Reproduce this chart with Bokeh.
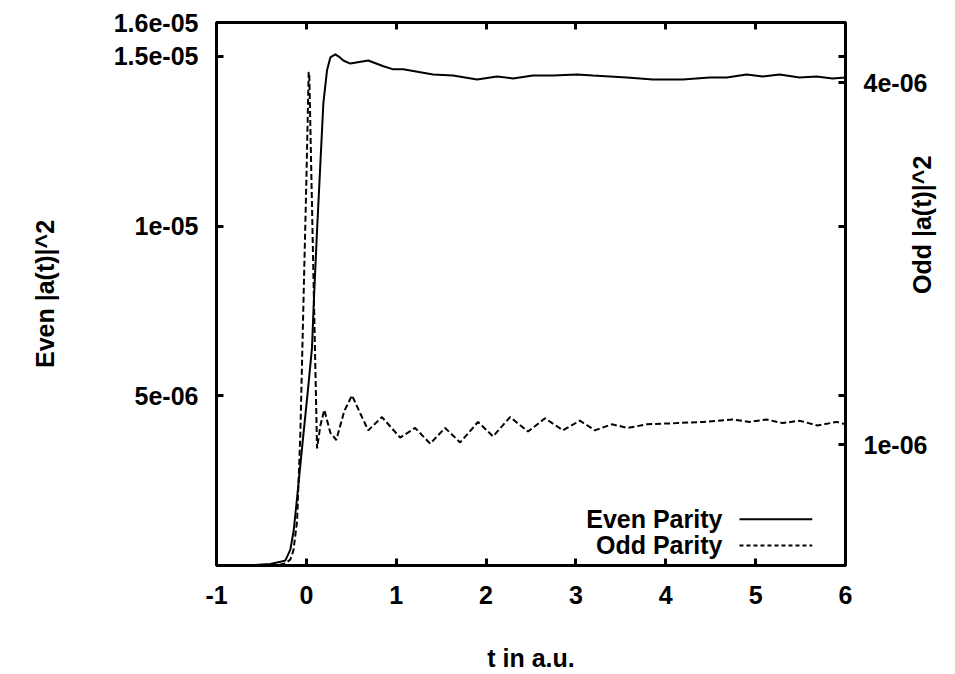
import math
from bokeh.plotting import figure
from bokeh.models import Range1d, LinearAxis, FixedTicker, CustomJSTickFormatter, Label
from bokeh.embed import file_html
from bokeh.resources import INLINE

# ---------------- data ----------------
t_even = [-1.0, -0.6, -0.4, -0.278, -0.233, -0.178, -0.141, -0.103, -0.044, 0.011,
          0.063, 0.085, 0.119, 0.156, 0.189, 0.23, 0.267, 0.322, 0.37, 0.411,
          0.489, 0.689, 0.85, 0.967, 1.078, 1.411, 1.633, 1.9, 2.122, 2.3,
          2.522, 2.744, 3.011, 3.189, 3.567, 3.856, 4.189, 4.489, 4.678, 4.9,
          5.078, 5.267, 5.489, 5.678, 5.856, 6.0]
even_vals = [0.0, 1e-8, 4.4e-8, 1.2e-7, 1.5e-7, 4.7e-7, 1.03e-6, 2.0e-6, 3.57e-6, 5.0e-6,
             6.42e-6, 7.9e-6, 9.87e-6, 1.185e-5, 1.361e-5, 1.459e-5, 1.497e-5, 1.506e-5, 1.498e-5, 1.488e-5,
             1.479e-5, 1.488e-5, 1.472e-5, 1.462e-5, 1.462e-5, 1.447e-5, 1.444e-5, 1.432e-5, 1.441e-5, 1.435e-5,
             1.444e-5, 1.444e-5, 1.447e-5, 1.444e-5, 1.438e-5, 1.432e-5, 1.432e-5, 1.438e-5, 1.438e-5, 1.447e-5,
             1.441e-5, 1.447e-5, 1.438e-5, 1.441e-5, 1.435e-5, 1.438e-5]

t_odd = [-1.0, -0.344, -0.233, -0.178, -0.144, -0.103, -0.067, -0.03, 0.0, 0.026,
         0.033, 0.083, 0.119, 0.156, 0.2, 0.267, 0.333, 0.422, 0.508, 0.6,
         0.689, 0.841, 1.044, 1.211, 1.378, 1.544, 1.711, 1.911, 2.078, 2.267,
         2.467, 2.656, 2.856, 3.044, 3.211, 3.4, 3.578, 3.789, 4.122, 4.411,
         4.744, 4.933, 5.122, 5.3, 5.489, 5.689, 5.9, 6.0]
odd_vals = [0.0, 0.0, 1.7e-8, 5e-8, 1.24e-7, 3.7e-7, 1.09e-6, 2.25e-6, 3.18e-6, 4.09e-6,
            4.06e-6, 2.25e-6, 9.7e-7, 1.16e-6, 1.29e-6, 1.10e-6, 1.04e-6, 1.28e-6, 1.41e-6, 1.26e-6,
            1.12e-6, 1.23e-6, 1.06e-6, 1.14e-6, 1.01e-6, 1.14e-6, 1.02e-6, 1.19e-6, 1.07e-6, 1.23e-6,
            1.11e-6, 1.22e-6, 1.12e-6, 1.20e-6, 1.12e-6, 1.17e-6, 1.14e-6, 1.17e-6, 1.18e-6, 1.19e-6,
            1.21e-6, 1.19e-6, 1.21e-6, 1.18e-6, 1.20e-6, 1.16e-6, 1.19e-6, 1.17e-6]

x_ticks = [-1, 0, 1, 2, 3, 4, 5, 6]
y1_ticks = [5e-6, 1e-5, 1.5e-5, 1.6e-5]
y1_labels = ["5e-06", "1e-05", "1.5e-05", "1.6e-05"]
y2_ticks = [1e-6, 4e-6]
y2_labels = ["1e-06", "4e-06"]

series_names = ["Even Parity", "Odd Parity"]
x_label = "t in a.u."
y1_label = "Even |a(t)|^2"
y2_label = "Odd |a(t)|^2"

X_MIN, X_MAX = -1, 6
Y1_MAX = 1.6e-5
Y2_MAX = 4.5e-6

# legend placement (data units of x / left y)
LEG_TEXT_X = 4.63
LEG_LINE_X = [4.82, 5.63]
LEG_Y = [1.36e-6, 0.59e-6]

FONT = "Liberation Sans"
FS = "25px"

p = figure(width=955, height=674, output_backend="svg", toolbar_location=None,
           x_range=Range1d(X_MIN, X_MAX), y_range=Range1d(0, Y1_MAX),
           min_border_left=216, min_border_right=110, min_border_top=22, min_border_bottom=109,
           background_fill_color="white", border_fill_color="white")
p.extra_y_ranges = {"y2": Range1d(0, Y2_MAX)}
p.grid.visible = False
p.outline_line_color = "black"
p.outline_line_width = 3


def label_formatter(pos, texts):
    return CustomJSTickFormatter(args=dict(pos=pos, texts=texts), code="""
        for (let i = 0; i < pos.length; i++) {
            if (Math.abs(tick - pos[i]) < 1e-12) { return texts[i]; }
        }
        return "";
    """)


def style(ax):
    ax.axis_line_width = 3
    ax.axis_line_color = "black"
    ax.major_tick_in = 7
    ax.major_tick_out = 0
    ax.major_tick_line_width = 3
    ax.minor_tick_line_color = None
    ax.major_label_text_font = FONT
    ax.major_label_text_font_style = "bold"
    ax.major_label_text_font_size = FS
    ax.major_label_text_color = "black"
    ax.axis_label_text_font = FONT
    ax.axis_label_text_font_style = "bold"
    ax.axis_label_text_font_size = FS
    ax.axis_label_text_color = "black"


# bottom axis
xa = p.xaxis[0]
style(xa)
xa.ticker = FixedTicker(ticks=x_ticks)
xa.formatter = CustomJSTickFormatter(code="return tick.toFixed(0);")
xa.axis_label = x_label
xa.major_label_standoff = 20
xa.axis_label_standoff = 37

# left axis
ya = p.yaxis[0]
style(ya)
ya.ticker = FixedTicker(ticks=y1_ticks)
ya.formatter = label_formatter(y1_ticks, y1_labels)
ya.axis_label = y1_label
ya.major_label_standoff = 18
ya.axis_label_standoff = 52

# right axis (odd parity) with mirrored left ticks
mirror = [v * Y2_MAX / Y1_MAX for v in y1_ticks]
ax2 = LinearAxis(y_range_name="y2", axis_label=y2_label,
                 ticker=FixedTicker(ticks=y2_ticks + mirror),
                 formatter=label_formatter(y2_ticks, y2_labels))
style(ax2)
ax2.major_label_standoff = 18
ax2.axis_label_standoff = -8
ax2.axis_label_text_align = "center"
ax2.axis_label_text_baseline = "top"
if "axis_label_orientation" in ax2.properties():
    ax2.axis_label_orientation = math.pi / 2
p.add_layout(ax2, "right")

# top axis (mirrored ticks only)
axt = LinearAxis(ticker=FixedTicker(ticks=x_ticks))
style(axt)
axt.major_label_text_font_size = "1px"
axt.major_label_text_color = None
axt.major_label_standoff = 0
p.add_layout(axt, "above")

# series
p.line(t_even, even_vals, line_color="black", line_width=2)
p.line(t_odd, odd_vals, line_color="black", line_width=2, line_dash="6 3", y_range_name="y2")

# legend (text left, sample right, as in the original)
for name, ly, dash in zip(series_names, LEG_Y, ["solid", "4 3"]):
    p.add_layout(Label(x=LEG_TEXT_X, y=ly, text=name, text_align="right", text_baseline="middle",
                       text_font=FONT, text_font_style="bold", text_font_size=FS, text_color="black"))
    p.line(LEG_LINE_X, [ly, ly], line_color="black", line_width=2, line_dash=dash)

open("out.html", "w").write(file_html(p, INLINE))
